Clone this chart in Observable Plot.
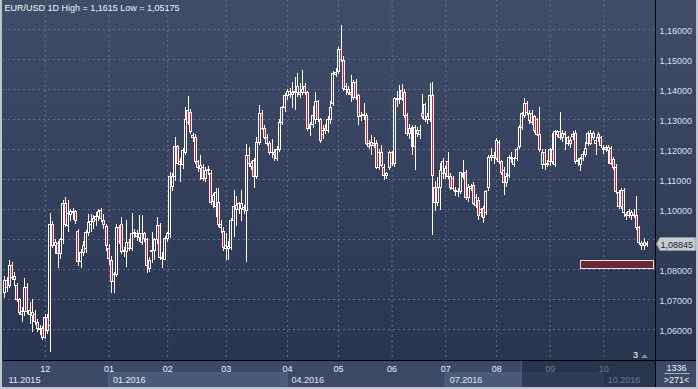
<!DOCTYPE html>
<html><head><meta charset="utf-8">
<script src="https://cdn.jsdelivr.net/npm/d3@7"></script>
<script src="https://cdn.jsdelivr.net/npm/@observablehq/plot@0.6"></script>
<style>html,body{margin:0;padding:0;background:#2b3652;overflow:hidden}#chart svg{display:block}</style>
</head><body><div id="chart"></div>
<script>
// ---- data: daily EUR/USD candles [open, high, low, close] ----
const nov2015 = [
[1.0722,1.0778,1.0703,1.0762],[1.0762,1.0772,1.0722,1.0740],[1.0745,1.0830,1.0738,1.0812],[1.0812,1.0822,1.0765,1.0772],
[1.0765,1.0790,1.0742,1.0775],[1.0745,1.0752,1.0690,1.0698],[1.0697,1.0705,1.0648,1.0655],[1.0648,1.0672,1.0622,1.0657],
[1.0660,1.0770,1.0645,1.0740],[1.0740,1.0752,1.0650,1.0657],[1.0650,1.0690,1.0618,1.0662],[1.0645,1.0700,1.0590,1.0655],
[1.0650,1.0662,1.0612,1.0625],[1.0622,1.0632,1.0590,1.0603],[1.0600,1.0612,1.0580,1.0598],[1.0603,1.0610,1.0565,1.0573]];
const dec2015 = [
[1.0573,1.0650,1.0568,1.0640],[1.0640,1.0650,1.0585,1.0595],[1.0613,1.0987,1.0523,1.0950],[1.0950,1.0960,1.0870,1.0880],
[1.0880,1.0900,1.0850,1.0888],[1.0885,1.0895,1.0803,1.0852],[1.0852,1.0905,1.0835,1.0897],[1.0897,1.1030,1.0885,1.1020],
[1.1020,1.1040,1.0940,1.0948],[1.0945,1.1030,1.0925,1.0985],[1.0982,1.1000,1.0960,1.0992],[1.0988,1.1005,1.0965,1.0990],
[1.0992,1.0998,1.0950,1.0962],[1.0925,1.0935,1.0810,1.0825],[1.0825,1.0868,1.0805,1.0855],[1.0855,1.0895,1.0845,1.0880],
[1.0868,1.0930,1.0855,1.0922],[1.0922,1.0985,1.0910,1.0955],[1.0950,1.0985,1.0925,1.0960],[1.0958,1.0980,1.0935,1.0968],
[1.0965,1.0990,1.0945,1.0975],[1.0975,1.1000,1.0960,1.0992],[1.0995,1.1005,1.0958,1.0968],[1.0962,1.0982,1.0935,1.0950],
[1.0942,1.0950,1.0860,1.0877]];
const jan2016 = [
[1.0870,1.0885,1.0813,1.0835],[1.0830,1.0842,1.0720,1.0757],[1.0757,1.0790,1.0720,1.0783],[1.0783,1.0950,1.0775,1.0940],
[1.0940,1.0948,1.0885,1.0893],[1.0950,1.0973,1.0850,1.0857],[1.0857,1.0875,1.0840,1.0862],[1.0857,1.0963,1.0807,1.0887],
[1.0887,1.0900,1.0860,1.0870],[1.0870,1.0987,1.0860,1.0920],[1.0917,1.0935,1.0905,1.0923],[1.0920,1.0930,1.0895,1.0907],
[1.0905,1.0980,1.0890,1.0917],[1.0890,1.0980,1.0880,1.0917],[1.0917,1.0925,1.0890,1.0903],[1.0897,1.0905,1.0787,1.0813],
[1.0803,1.0840,1.0790,1.0830],[1.0857,1.0923,1.0820,1.0863],[1.0863,1.0905,1.0830,1.0897],[1.0897,1.0973,1.0885,1.0945],
[1.0945,1.0955,1.0830,1.0837],[1.0835,1.0857,1.0805,1.0838],[1.0832,1.0910,1.0830,1.0903]];
const feb2016 = [
[1.0903,1.0925,1.0890,1.0917],[1.0917,1.1125,1.0905,1.1107],[1.1075,1.1120,1.1060,1.1110],[1.1107,1.1240,1.1095,1.1207],
[1.1207,1.1215,1.1150,1.1153],[1.1150,1.1170,1.1090,1.1160],[1.1150,1.1205,1.1135,1.1195],[1.1190,1.1340,1.1180,1.1297],
[1.1327,1.1377,1.1280,1.1290],[1.1323,1.1335,1.1250,1.1257],[1.1240,1.1255,1.1225,1.1245],[1.1240,1.1250,1.1150,1.1157],
[1.1157,1.1165,1.1125,1.1140],[1.1135,1.1180,1.1097,1.1145],[1.1137,1.1150,1.1095,1.1103],[1.1103,1.1140,1.1090,1.1130],
[1.1130,1.1145,1.1115,1.1133],[1.1120,1.1130,1.1015,1.1023],[1.1025,1.1055,1.1005,1.1045],[1.1010,1.1070,1.0973,1.1055],
[1.1023,1.1070,1.0940,1.0947],[1.0940,1.0963,1.0920,1.0947],[1.0925,1.0940,1.0860,1.0873]];
const mar2016 = [
[1.0870,1.0920,1.0830,1.0877],[1.0870,1.0893,1.0830,1.0875],[1.0872,1.0970,1.0862,1.0963],[1.0963,1.1063,1.0907,1.1007],
[1.1013,1.1043,1.0943,1.0997],[1.0997,1.1025,1.0985,1.1017],[1.1003,1.1063,1.0960,1.1017],[1.1000,1.1015,1.0985,1.1005],
[1.0995,1.1218,1.0822,1.1180],[1.1180,1.1207,1.1140,1.1153],[1.1143,1.1160,1.1130,1.1153],[1.1163,1.1170,1.1070,1.1107],
[1.1107,1.1240,1.1100,1.1223],[1.1223,1.1347,1.1215,1.1320],[1.1320,1.1330,1.1265,1.1270],[1.1270,1.1280,1.1235,1.1240],
[1.1240,1.1250,1.1210,1.1220],[1.1220,1.1228,1.1180,1.1187],[1.1187,1.1233,1.1170,1.1190],[1.1190,1.1200,1.1160,1.1183],
[1.1167,1.1210,1.1160,1.1200],[1.1197,1.1300,1.1190,1.1290],[1.1290,1.1345,1.1280,1.1337],[1.1337,1.1387,1.1325,1.1380]];
const apr2016 = [
[1.1380,1.1400,1.1365,1.1392],[1.1393,1.1405,1.1370,1.1383],[1.1383,1.1423,1.1337,1.1390],[1.1393,1.1440,1.1330,1.1388],
[1.1387,1.1453,1.1375,1.1407],[1.1383,1.1420,1.1370,1.1390],[1.1390,1.1463,1.1380,1.1400],[1.1407,1.1420,1.1380,1.1387],
[1.1387,1.1395,1.1260,1.1270],[1.1270,1.1290,1.1243,1.1283],[1.1283,1.1343,1.1270,1.1313],[1.1297,1.1390,1.1285,1.1357],
[1.1357,1.1365,1.1290,1.1297],[1.1297,1.1305,1.1220,1.1230],[1.1250,1.1280,1.1235,1.1263],[1.1270,1.1285,1.1250,1.1263],
[1.1263,1.1310,1.1255,1.1297],[1.1297,1.1360,1.1285,1.1340],[1.1353,1.1460,1.1345,1.1453],[1.1450,1.1470,1.1440,1.1455]];
const may2016 = [
[1.1457,1.1540,1.1450,1.1533],[1.1533,1.1615,1.1490,1.1497],[1.1495,1.1510,1.1395,1.1403],[1.1397,1.1420,1.1380,1.1407],
[1.1400,1.1410,1.1380,1.1387],[1.1387,1.1447,1.1357,1.1383],[1.1373,1.1430,1.1365,1.1423],[1.1423,1.1432,1.1365,1.1373],
[1.1377,1.1385,1.1280,1.1307],[1.1307,1.1325,1.1295,1.1313],[1.1313,1.1353,1.1297,1.1316],[1.1313,1.1320,1.1215,1.1220],
[1.1207,1.1230,1.1200,1.1220],[1.1223,1.1247,1.1180,1.1213],[1.1220,1.1240,1.1205,1.1213],[1.1220,1.1230,1.1135,1.1140],
[1.1140,1.1200,1.1130,1.1190],[1.1190,1.1215,1.1140,1.1145],[1.1140,1.1150,1.1097,1.1113],[1.1113,1.1125,1.1100,1.1117],
[1.1137,1.1195,1.1130,1.1187]];
const jun2016 = [
[1.1187,1.1195,1.1145,1.1153],[1.1153,1.1375,1.1140,1.1367],[1.1365,1.1393,1.1340,1.1370],[1.1365,1.1413,1.1350,1.1370],
[1.1370,1.1416,1.1360,1.1395],[1.1390,1.1400,1.1305,1.1313],[1.1313,1.1320,1.1245,1.1253],[1.1253,1.1285,1.1235,1.1267],
[1.1273,1.1280,1.1180,1.1207],[1.1207,1.1280,1.1130,1.1273],[1.1263,1.1275,1.1240,1.1253],[1.1250,1.1280,1.1235,1.1263],
[1.1320,1.1383,1.1300,1.1307],[1.1300,1.1355,1.1290,1.1347],[1.1297,1.1320,1.1285,1.1310],[1.1300,1.1420,1.1290,1.1380],
[1.1380,1.1425,1.0913,1.1113],[1.1073,1.1095,1.0995,1.1023],[1.1023,1.1107,1.1010,1.1073],[1.1073,1.1153,1.0997,1.1130],
[1.1120,1.1170,1.1100,1.1160]];
const jul2016 = [
[1.1120,1.1145,1.1100,1.1135],[1.1157,1.1190,1.1100,1.1107],[1.1107,1.1120,1.1065,1.1073],[1.1103,1.1110,1.1060,1.1070],
[1.1060,1.1075,1.1045,1.1063],[1.1057,1.1070,1.1040,1.1060],[1.1057,1.1125,1.1050,1.1123],[1.1110,1.1163,1.1100,1.1120],
[1.1123,1.1130,1.1030,1.1037],[1.1037,1.1085,1.1025,1.1073],[1.1075,1.1085,1.1060,1.1070],[1.1080,1.1090,1.1015,1.1020],
[1.1013,1.1050,1.1005,1.1037],[1.1030,1.1040,1.0963,1.0980],[1.0990,1.1005,1.0975,1.0997],[1.1003,1.1010,1.0953,1.0973],
[1.0990,1.1065,1.0980,1.1057],[1.1073,1.1180,1.1060,1.1173],[1.1173,1.1203,1.1160,1.1177],[1.1173,1.1190,1.1150,1.1177]];
const aug2016 = [
[1.1170,1.1237,1.1165,1.1230],[1.1223,1.1230,1.1150,1.1157],[1.1157,1.1165,1.1115,1.1123],[1.1130,1.1140,1.1047,1.1090],
[1.1090,1.1120,1.1075,1.1110],[1.1113,1.1180,1.1105,1.1173],[1.1167,1.1190,1.1155,1.1173],[1.1150,1.1175,1.1140,1.1167],
[1.1167,1.1207,1.1160,1.1200],[1.1207,1.1280,1.1200,1.1273],[1.1273,1.1325,1.1265,1.1320],[1.1313,1.1370,1.1305,1.1353],
[1.1353,1.1360,1.1315,1.1323],[1.1295,1.1330,1.1285,1.1320],[1.1320,1.1330,1.1280,1.1290],[1.1307,1.1315,1.1255,1.1263],
[1.1297,1.1305,1.1245,1.1250],[1.1247,1.1340,1.1190,1.1200],[1.1147,1.1200,1.1135,1.1190],[1.1190,1.1200,1.1130,1.1147],
[1.1150,1.1165,1.1140,1.1153]];
const sep2016 = [
[1.1157,1.1205,1.1145,1.1197],[1.1197,1.1253,1.1150,1.1160],[1.1147,1.1263,1.1140,1.1257],[1.1250,1.1265,1.1240,1.1257],
[1.1257,1.1323,1.1230,1.1240],[1.1237,1.1265,1.1225,1.1253],[1.1253,1.1260,1.1197,1.1247],[1.1237,1.1245,1.1210,1.1220],
[1.1220,1.1240,1.1205,1.1230],[1.1243,1.1260,1.1230,1.1250],[1.1253,1.1262,1.1150,1.1157],[1.1157,1.1170,1.1145,1.1163],
[1.1150,1.1175,1.1127,1.1167],[1.1170,1.1195,1.1160,1.1183],[1.1183,1.1223,1.1175,1.1203],[1.1220,1.1260,1.1210,1.1253],
[1.1253,1.1263,1.1215,1.1220],[1.1240,1.1260,1.1230,1.1253],[1.1220,1.1240,1.1180,1.1230],[1.1237,1.1258,1.1225,1.1250],
[1.1237,1.1245,1.1205,1.1213]];
const oct2016 = [
[1.1197,1.1215,1.1185,1.1203],[1.1205,1.1212,1.1190,1.1200],[1.1195,1.1212,1.1150,1.1205],[1.1203,1.1210,1.1148,1.1153],
[1.1165,1.1175,1.1130,1.1140],[1.1140,1.1150,1.1050,1.1057],[1.1010,1.1065,1.1000,1.1055],[1.1063,1.1070,1.1000,1.1007],
[1.0990,1.1070,1.0973,1.1063],[1.0978,1.0990,1.0965,1.0982],[1.0993,1.1000,1.0970,1.0980],[1.0977,1.0998,1.0965,1.0990],
[1.0983,1.1000,1.0970,1.0977],[1.0977,1.1043,1.0930,1.0937],[1.0937,1.0945,1.0880,1.0887],[1.0880,1.0893,1.0863,1.0885],
[1.0880,1.0905,1.0865,1.0888],[1.0882,1.0892,1.0875,1.08845]];

const monthNames = ["12","01","02","03","04","05","06","07","08","09","10"];
const quarterNames = ["11.2015","01.2016","04.2016","07.2016","10.2016"];
const quarterMonths = [0, 2, 5, 8, 11];          // position in the month list
const priceTicks = [1.06,1.07,1.08,1.09,1.10,1.11,1.12,1.13,1.14,1.15,1.16];
const titleText = "EUR/USD 1D High = 1,1615 Low = 1,05175";
const lastPrice = 1.08845;
const zoneLow = 1.0801, zoneHigh = 1.0827, zoneFrom = 226.2, zoneTo = 254.6;
const viewFrom = 202.6;                          // start of the shaded navigator window
const barsTotal = "1336", barsVisible = ">271<", markerText = "3";

// ---- build ----
const series = [nov2015, dec2015, jan2016, feb2016, mar2016, apr2016, may2016, jun2016, jul2016, aug2016, sep2016, oct2016];
const candles = [];
const monthStart = [];
for (const m of series) {
  monthStart.push(candles.length);
  for (const [o, h, l, c] of m) candles.push({i: candles.length, o, h, l, c});
}
const N = candles.length;
const monthTicks = monthStart.slice(1);
const monthLabel = new Map(monthTicks.map((t, k) => [t, monthNames[k]]));
const quarterTicks = quarterMonths.map(k => monthStart[k]);
const quarterLabel = new Map(quarterTicks.map((t, k) => [t, quarterNames[k]]));
const fmt = d => d.toFixed(5).replace(".", ",");
const FONT = "'Liberation Sans', Arial, sans-serif";
const bodyLo = d => Math.min(d.o, d.c);
const bodyHi = d => Math.max(d.o, d.c) + (Math.abs(d.o - d.c) < 0.0002 ? 0.0002 : 0);

function background(index, scales, values, dim) {
  const {width, height, marginBottom, marginRight} = dim;
  const yb = height - marginBottom;
  const g = d3.create("svg:g");
  const lg = g.append("defs").append("linearGradient").attr("id", "bgGrad")
    .attr("x1", 0).attr("x2", 0).attr("y1", 0).attr("y2", 1);
  lg.append("stop").attr("offset", "0%").attr("stop-color", "#414d68");
  lg.append("stop").attr("offset", "100%").attr("stop-color", "#2a3551");
  g.append("rect").attr("x", 0).attr("y", 0).attr("width", width).attr("height", yb).attr("fill", "url(#bgGrad)");
  g.append("rect").attr("x", 0).attr("y", yb).attr("width", width).attr("height", marginBottom).attr("fill", "#3c4a68");
  // alternating quarter bands (Q1 and Q3 2016)
  for (const [a, b] of [[quarterTicks[1], quarterTicks[2]], [quarterTicks[3], quarterTicks[4]]]) {
    const x1 = scales.x(a), x2 = Math.min(scales.x(b), width - marginRight);
    g.append("rect").attr("x", x1).attr("y", yb + 13).attr("width", x2 - x1).attr("height", 13)
      .attr("fill", "#4b5a79").attr("stroke", "#56658a").attr("stroke-width", 1);
  }
  return g.node();
}

function foreground(index, scales, values, dim) {
  const {width, height, marginBottom, marginRight, marginLeft} = dim;
  const yb = height - marginBottom;
  const xr = width - marginRight;
  const g = d3.create("svg:g").attr("font-family", FONT).attr("font-size", 9).attr("text-anchor", "start");
  // navigator overlay
  const xo = scales.x(viewFrom);
  g.append("rect").attr("x", xo).attr("y", yb + 1).attr("width", xr - xo).attr("height", marginBottom - 3)
    .attr("fill", "#1d2640").attr("fill-opacity", 0.6);
  g.append("line").attr("x1", xo + 0.5).attr("x2", xo + 0.5).attr("y1", yb + 1).attr("y2", height - 2)
    .attr("stroke", "#5f6d8c");
  // separators
  g.append("line").attr("x1", xr + 0.5).attr("x2", xr + 0.5).attr("y1", 0).attr("y2", height).attr("stroke", "#000");
  g.append("line").attr("x1", marginLeft).attr("x2", width).attr("y1", yb + 0.5).attr("y2", yb + 0.5).attr("stroke", "#000");
  // last price label
  const yp = Math.round(scales.y(lastPrice));
  g.append("path").attr("d", `M${xr + 1.5},${yp} L${xr + 5},${yp - 6.5} L${width - 2},${yp - 6.5} L${width - 2},${yp + 6.5} L${xr + 5},${yp + 6.5} Z`)
    .attr("fill", "#c8ccd3").attr("stroke", "#8d94a3");
  g.append("text").attr("x", xr + 5.5).attr("y", yp + 3.5).attr("text-anchor", "start").attr("fill", "#1e2230").text(fmt(lastPrice));
  // right bottom counter
  const xc = (xr + width) / 2;
  g.append("text").attr("x", xc).attr("y", yb + 11).attr("text-anchor", "middle").attr("fill", "#eef2f8").text(barsTotal);
  g.append("line").attr("x1", xc - 12).attr("x2", xc + 13).attr("y1", yb + 13.5).attr("y2", yb + 13.5).attr("stroke", "#aab3c4");
  g.append("text").attr("x", xc).attr("y", yb + 23).attr("text-anchor", "middle").attr("fill", "#eef2f8").text(barsVisible);
  // small marker
  g.append("text").attr("x", xr - 19.5).attr("y", yb - 2).attr("text-anchor", "middle").attr("fill", "#ffffff").text(markerText);
  g.append("path").attr("d", `M${xr - 14},${yb - 2} L${xr - 7},${yb - 2} L${xr - 10.5},${yb - 6} Z`).attr("fill", "#7d879c");
  // outer border
  g.append("rect").attr("x", 0).attr("y", 0).attr("width", 2).attr("height", height).attr("fill", "#c0c4cc");
  g.append("rect").attr("x", width - 2).attr("y", 0).attr("width", 2).attr("height", height).attr("fill", "#c0c4cc");
  g.append("rect").attr("x", 0).attr("y", height - 2).attr("width", width).attr("height", 2).attr("fill", "#c0c4cc");
  return g.node();
}

const gridStyle = {stroke: "#5d6c8b", strokeOpacity: 1, strokeDasharray: "2,3", strokeWidth: 1};

const chart = Plot.plot({
  width: 698, height: 389,
  marginLeft: 3, marginRight: 43, marginTop: 0, marginBottom: 29,
  style: {background: "transparent", fontFamily: FONT, fontSize: "9px"},
  x: {domain: [-0.4, N + 2.3]},
  y: {domain: [1.04967, 1.16967]},
  marks: [
    background,
    Plot.gridY(priceTicks, gridStyle),
    Plot.gridX(monthTicks, gridStyle),
    Plot.rect([{zoneLow, zoneHigh}], {x1: () => zoneFrom, x2: () => zoneTo, y1: "zoneLow", y2: "zoneHigh",
      fill: "#6a2838", stroke: "#f1dde2", strokeWidth: 1, shapeRendering: "crispEdges"}),
    Plot.ruleX(candles, {x: "i", y1: bodyHi, y2: "h", stroke: "#fffaf2", strokeWidth: 1, shapeRendering: "crispEdges"}),
    Plot.ruleX(candles, {x: "i", y1: "l", y2: bodyLo, stroke: "#fffaf2", strokeWidth: 1, shapeRendering: "crispEdges"}),
    Plot.rect(candles, {filter: d => d.c >= d.o, x1: d => d.i - 0.39, x2: d => d.i + 0.39, y1: bodyLo, y2: bodyHi,
      fill: "none", stroke: "#fffaf2", strokeWidth: 1, shapeRendering: "crispEdges"}),
    Plot.rect(candles, {filter: d => d.c < d.o, x1: d => d.i - 0.39, x2: d => d.i + 0.39, y1: bodyLo, y2: bodyHi,
      fill: "#d8163f", stroke: "#fffaf2", strokeWidth: 1, shapeRendering: "crispEdges"}),
    Plot.axisY(priceTicks.filter(t => Math.abs(t - lastPrice) > 0.004), {anchor: "right", tickSize: 0, tickPadding: 4, dy: 1.2, tickFormat: fmt,
      color: "#d4e0f2", fontSize: 9, label: null}),
    Plot.axisX(monthTicks, {anchor: "bottom", tickSize: 0, tickPadding: 5, tickFormat: d => monthLabel.get(d),
      color: "#e8eef8", fontSize: 9, label: null}),
    Plot.axisX(quarterTicks, {anchor: "bottom", tickSize: 0, tickPadding: 16, textAnchor: "start", dx: 4,
      tickFormat: d => quarterLabel.get(d), color: "#e2e9f5", fontSize: 9, label: null}),
    foreground,
    Plot.text([titleText], {frameAnchor: "top-left", dx: 1, dy: 4.5, lineAnchor: "top", textAnchor: "start",
      fill: "#eef3fb", fontSize: 9})
  ]
});
document.getElementById("chart").append(chart);
</script>
</body></html>
